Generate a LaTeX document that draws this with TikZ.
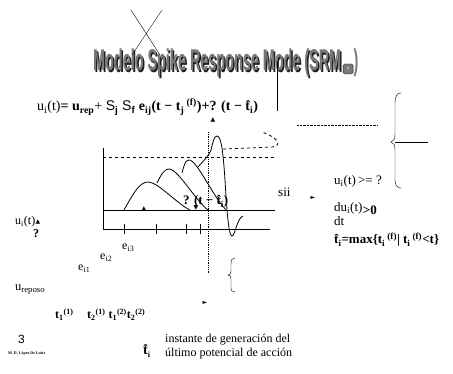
\documentclass[tikz,border=0pt]{standalone}
\usepackage{fontspec}
\setmainfont{Liberation Serif}
\setsansfont{Liberation Sans}
\newfontfamily\symfont{DejaVu Sans}
\usetikzlibrary{positioning}
\definecolor{titlegray}{RGB}{120,120,120}
\definecolor{shadowgray}{RGB}{30,30,30}

\begin{document}
\begin{tikzpicture}[x=1pt,y=-1pt,font=\fontsize{13}{15}\selectfont,
  lbl/.style={inner sep=0pt,anchor=base west},
  boldlbl/.style={lbl,font=\bfseries\fontsize{13}{15}\selectfont},
  tri/.style={inner sep=0pt,font=\symfont\fontsize{6}{6}\selectfont},
  curve/.style={line width=0.8pt},
  axis/.style={line width=0.8pt}]
  \useasboundingbox (0,0) rectangle (453,374);

  % titulo
  \node[lbl,text=shadowgray] (titleshadow) at (94.5,72.5)
    {\scalebox{0.48}[1]{\sffamily\bfseries\fontsize{30}{30}\selectfont Modelo Spike Response Mode (SRM}};
  \node[lbl,text=titlegray] (title) at (93,71)
    {\scalebox{0.48}[1]{\sffamily\bfseries\fontsize{30}{30}\selectfont Modelo Spike Response Mode (SRM}};
  \node[draw=shadowgray,fill=titlegray,rounded corners=1.5pt,minimum size=10pt,inner sep=0pt,
        font=\sffamily\bfseries\fontsize{4}{4}\selectfont,text=white,anchor=west,
        xshift=1.5pt,yshift=2pt] (srmbox) at (title.base east) {?};
  \node[lbl,text=titlegray] (titleclose) at (srmbox.east |- title.base)
    {\scalebox{0.48}[1]{\sffamily\bfseries\fontsize{30}{30}\selectfont )}};
  \draw (131,10) -- (160,55);
  \draw (162,10) -- (132,55);
  \draw (277,62) -- (277,111);

  % ecuacion
  \node[lbl,font=\fontsize{14}{16}\selectfont] (eq) at (37,111)
    {u\textsubscript{i}(t)\textbf{=} \textbf{u\textsubscript{rep}}+ {\sffamily S\textsubscript{\textbf{j}} S\textsubscript{\textbf{f}}}
     \textbf{e\textsubscript{ij}(t − t\textsubscript{j}\,\textsuperscript{(f)})+? (t − \^{t}\textsubscript{i})}};
  \node[tri] (eqtri) at (213,120) {▲};

  \draw[densely dotted] (297,125) -- (378,125);
  \draw (401,93) .. controls (397,93) and (395,96) .. (395,103) -- (395,134)
    .. controls (395,139) and (394,141) .. (391,142)
    .. controls (394,143) and (395,145) .. (395,150) -- (395,180)
    .. controls (395,185) and (397,188) .. (401,188);
  \draw (395,142) -- (428,142);

  % grafico
  \draw[axis] (103,148) -- (103,229) -- (270,229);
  \draw[axis] (103,210) -- (275,210);
  \draw[axis,dashed] (103,157) -- (275,157);
  \foreach \x in {124,156,186,200}
    \draw[axis] (\x,224) -- (\x,234);
  \draw[densely dotted,line width=0.8pt] (208,132) -- (208,273);

  \draw[curve] (124,210) .. controls (134,192) and (140,182) .. (148,182)
    .. controls (158,182) and (176,203) .. (190,210);
  \draw[curve] (157,183) .. controls (161,175) and (164,169) .. (169,169)
    .. controls (178,169) and (195,200) .. (208,210);
  \draw[curve] (182,173) .. controls (184,166) and (185,160) .. (189,160)
    .. controls (197,160) and (212,195) .. (226,210);
  \draw[curve] (198,167) .. controls (204,160) and (209,156) .. (211,150)
    .. controls (213,142) and (214,136) .. (217,136)
    .. controls (221,136) and (223,150) .. (225,180)
    .. controls (227,215) and (229,236) .. (232,236)
    .. controls (235,236) and (237,218) .. (243,216);
  \draw[curve,dashed] (223,149) -- (272,147) .. controls (281,146) and (281,139) .. (262,132);

  \node[boldlbl] (kernel) at (183,205) {? (t − \^{t}\textsubscript{i})};
  \node[tri,anchor=south] (uptri) at (144,211) {▲};
  \node[tri] (downtri) at (196,208) {▼};

  % izquierda
  \node[lbl,font=\fontsize{12}{14}\selectfont] (ui) at (15,225) {u\textsubscript{i}(t)};
  \node[tri,right=0pt of ui.east] (uitri) {▲};
  \node[boldlbl,font=\bfseries\fontsize{12}{14}\selectfont] (uiq) at (33,238) {?};
  \node[lbl,font=\fontsize{12}{14}\selectfont] (ei3) at (122,250) {e\textsubscript{i3}};
  \node[lbl,font=\fontsize{12}{14}\selectfont] (ei2) at (100,260) {e\textsubscript{i2}};
  \node[lbl,font=\fontsize{12}{14}\selectfont] (ei1) at (78,271) {e\textsubscript{i1}};
  \node[lbl,font=\fontsize{12.5}{14}\selectfont] (urep) at (15,291) {u\textsubscript{reposo}};

  \node[boldlbl,font=\bfseries\fontsize{12}{14}\selectfont] (t11) at (55,319)
    {t\textsubscript{1}\textsuperscript{(1)}};
  \node[boldlbl,font=\bfseries\fontsize{12}{14}\selectfont] (t21) at (87,319)
    {t\textsubscript{2}\textsuperscript{(1)} t\textsubscript{1}\textsuperscript{(2)}t\textsubscript{2}\textsuperscript{(2)}};

  \draw (235,258) .. controls (232,258) and (231,260) .. (231,264) -- (231,271)
    .. controls (231,274) and (230,275) .. (228,275)
    .. controls (230,275) and (231,276) .. (231,279) -- (231,287)
    .. controls (231,291) and (232,292) .. (235,292);
  \node[tri] (rtri) at (205,303) {►};

  % pie
  \node[lbl,font=\sffamily\fontsize{12}{12}\selectfont] (slide) at (18,344) {3};
  \node[lbl,font=\bfseries\fontsize{4}{4}\selectfont] (author) at (8,355) {M. D. López De Luise};
  \node[lbl,font=\bfseries\fontsize{14}{14}\selectfont] (that) at (143,355) {\^{t}\textsubscript{\fontsize{8}{8}\selectfont i}};
  \node[lbl,font=\fontsize{12}{14}\selectfont] (inst1) at (165,343) {instante de generación del};
  \node[lbl,font=\fontsize{12}{14}\selectfont] (inst2) at (165,357) {último potencial de acción};

  % derecha
  \node[lbl] (cond1) at (334,185) {u\textsubscript{i}(t)\,>= ?};
  \node[lbl] (sii) at (278,197) {sii};
  \node[tri] (siitri) at (313,198) {►};
  \node[lbl] (du) at (334,212) {du\textsubscript{i}(t)};
  \node[boldlbl,right=0pt of du.base east,anchor=base west,yshift=-3pt] (gtzero) {>0};
  \node[lbl] (dt) at (334,226) {dt};
  \node[boldlbl] (tmax) at (334,244)
    {\^{t}\textsubscript{i}=max\{t\textsubscript{i}\,\textsuperscript{(f)}| t\textsubscript{i}\,\textsuperscript{(f)}<t\}};
\end{tikzpicture}
\end{document}
